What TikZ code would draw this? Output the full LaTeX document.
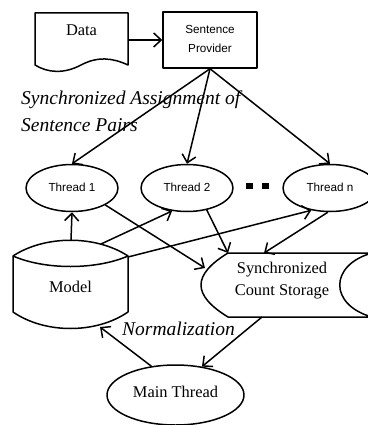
\documentclass[tikz,border=0pt]{standalone}
\usepackage{fontspec}
\setmainfont{Liberation Serif}
\setsansfont{Liberation Sans}
\usetikzlibrary{arrows.meta,shapes.geometric}

\tikzset{
  line/.style={line width=1.5pt, line join=round},
  conn/.style={line, -{Straight Barb[length=7.5pt,width=14pt,line width=1.5pt]}},
  thread/.style={ellipse, draw, line, inner sep=0pt, minimum width=92pt, minimum height=47pt,
    font=\sffamily\fontsize{11.7}{14}\selectfont},
  serifbig/.style={inner sep=0pt, align=center, font=\fontsize{16.4}{22}\selectfont},
  note/.style={inner sep=0pt, align=left, font=\itshape\fontsize{19.5}{27}\selectfont},
  provider/.style={rectangle, draw, line, minimum width=94pt, minimum height=56pt, align=center,
    font=\sffamily\fontsize{11.7}{17}\selectfont},
  dotbox/.style={rectangle, fill=black, inner sep=0pt, minimum width=7pt, minimum height=6pt},
}

\begin{document}
\begin{tikzpicture}[x=1pt,y=-1pt]
\useasboundingbox (0,0) rectangle (367,425);

% Data: document symbol with wavy lower edge
\draw[line] (35,65) -- (35,13) -- (128,13) -- (128,65)
  .. controls (113,58) and (98,56) .. (81,65)
  .. controls (64,74) and (48,73) .. (35,65) -- cycle;
\node[inner sep=0pt, minimum width=93pt, minimum height=54pt] (data) at (81.5,40) {};
\node[serifbig] (datatext) at (81.5,30) {Data};

% Sentence provider
\node[provider] (sp) at (210,40) {\raisebox{2pt}{\begin{tabular}{@{}c@{}}Sentence\\[2pt]Provider\end{tabular}}};

% Worker threads
\node[thread] (t1) at (72,188) {\raisebox{1.5pt}{Thread 1}};
\node[thread] (t2) at (187,188) {\raisebox{1.5pt}{Thread 2}};
\node[thread, minimum width=94pt] (tn) at (330,188) {\raisebox{1.5pt}{Thread n}};
\node[dotbox] (dot1) at (249,186) {};
\node[dotbox] (dot2) at (265,186) {};

% Model: drum with curved top and bottom
\draw[line] (13,256) .. controls (45,235) and (96,235) .. (128,256)
  -- (128,312) .. controls (96,334) and (45,334) .. (13,312) -- cycle;
\draw[line] (13,256) .. controls (45,270) and (96,270) .. (128,256);
\node[serifbig] (model) at (70.5,287) {Model};
\coordinate (mtop) at (71,240);
\coordinate (mtwo) at (101,244);
\coordinate (mthree) at (128,257);
\coordinate (mbot) at (100,327);

% Synchronized count storage
\draw[line] (228,253) -- (372,253)
  .. controls (329,265) and (329,305) .. (372,317)
  -- (228,317) .. controls (192,295) and (192,275) .. (228,253) -- cycle;
\node[serifbig] (sync) at (282,281) {Synchronized\\Count Storage};
\coordinate (sone) at (205,268);
\coordinate (stwo) at (228,253);
\coordinate (sthree) at (264,253);
\coordinate (sout) at (262,317);

% Main thread
\node[ellipse, draw, line, inner sep=0pt, minimum width=137pt, minimum height=60pt] (main) at (175.5,395) {};
\node[serifbig] (maintext) at (175.5,392) {Main Thread};

% Labels
\node[note, anchor=north west] (assign) at (21,90.5) {Synchronized Assignment of\\Sentence Pairs};
\node[note] (norm) at (178.5,329) {Normalization};

% Connectors
\draw[conn] (data.east) -- (sp.west);
\draw[conn] (sp.south) -- (t1.north);
\draw[conn] (sp.south) -- (t2.north);
\draw[conn] (sp.south) -- (tn.north);
\draw[conn] (mtop) -- (t1.south);
\draw[conn] (mtwo) -- (t2.237);
\draw[conn] (mthree) -- (tn.230);
\draw[conn] (t1.333) -- (sone);
\draw[conn] (t2.312) -- (stwo);
\draw[conn] (tn.265) -- (sthree);
\draw[conn] (sout) -- (main.47);
\draw[conn] (main.130) -- (mbot);
\end{tikzpicture}
\end{document}
